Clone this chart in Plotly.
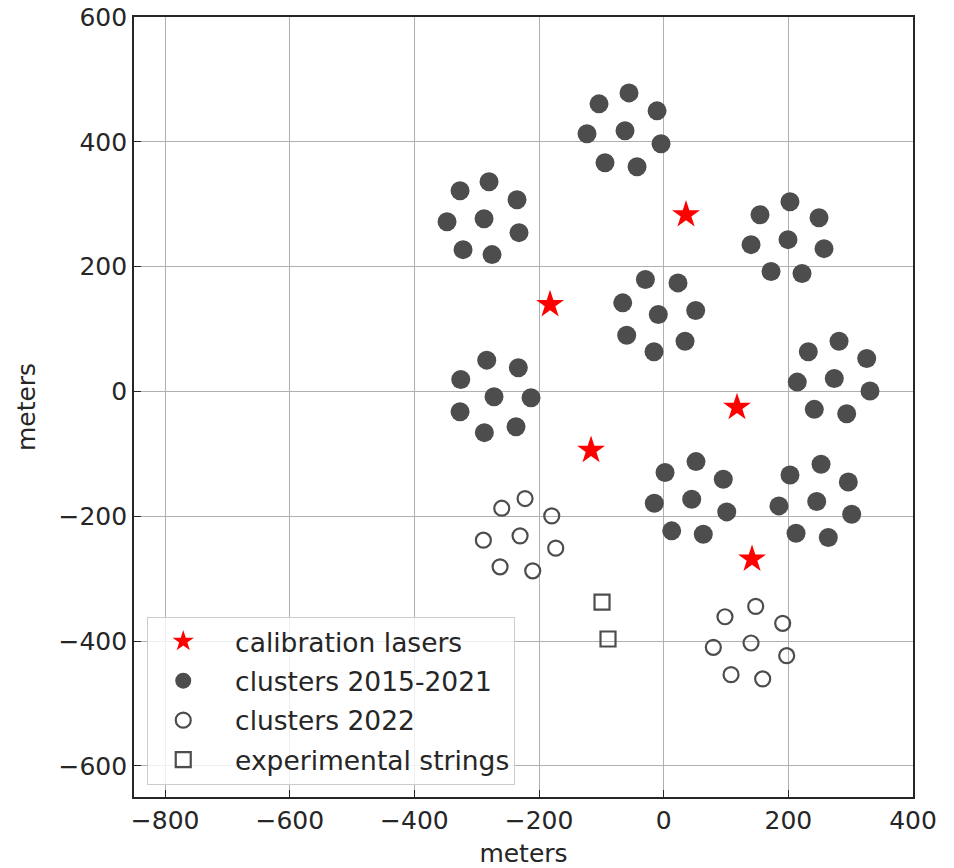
import plotly.graph_objects as go

# Calibration laser positions (meters)
laser_x = [35.8, -182.4, 117.6, -116.6, 141.7]
laser_y = [283.2, 139.2, -25.6, -94.4, -268.8]

# String positions of the clusters deployed 2015-2021 (eight clusters, 8 strings each)
old_x = [
    -347.7, -326.8, -280.3, -235.4, -232.2, -275.5, -322.0, -288.3,
    -123.1, -103.8, -55.7, -10.7, -4.3, -42.8, -94.2, -62.1,
    140.1, 154.5, 202.6, 249.2, 257.2, 221.9, 172.2, 199.4,
    -29.4, 22.9, -65.8, -8.7, 51.3, -59.4, -15.6, 34.2,
    281.3, 232.0, 325.7, 214.3, 273.7, 331.0, 241.6, 293.6,
    -284.0, -233.3, -325.7, -272.3, -212.9, -326.8, -287.8, -237.0,
    51.8, 2.1, 95.6, -15.1, 44.9, 101.1, 12.8, 63.5,
    252.4, 202.6, 296.2, 184.9, 245.5, 301.6, 212.3, 264.1,
]
old_y = [
    272.0, 321.6, 336.0, 307.2, 254.4, 219.2, 227.2, 276.8,
    412.8, 460.8, 478.4, 449.6, 396.8, 360.0, 366.4, 417.6,
    235.2, 283.2, 304.0, 278.4, 228.8, 188.8, 192.0, 243.2,
    179.2, 173.9, 141.9, 123.2, 129.6, 90.1, 63.5, 80.5,
    80.5, 63.5, 52.8, 14.9, 20.8, 0.5, -28.8, -35.7,
    50.1, 37.9, 19.2, -8.5, -10.1, -32.5, -66.1, -56.5,
    -112.5, -130.1, -140.8, -179.2, -172.8, -193.1, -223.5, -228.8,
    -116.8, -133.9, -145.1, -183.5, -176.5, -196.8, -227.2, -234.1,
]

# String positions of the clusters deployed in 2022
new_x = [
    -222.5, -259.9, -179.7, -289.4, -230.5, -173.3, -262.6, -210.2,
    147.6, 98.3, 190.9, 79.6, 140.1, 197.3, 108.0, 158.8,
]
new_y = [
    -171.7, -187.2, -199.5, -238.4, -231.5, -251.2, -281.1, -287.5,
    -344.5, -361.1, -371.7, -410.1, -403.2, -423.5, -453.9, -460.8,
]

# Experimental strings
exp_x = [-99.0, -89.4]
exp_y = [-337.6, -396.8]

x_ticks = [-800, -600, -400, -200, 0, 200, 400]
y_ticks = [-600, -400, -200, 0, 200, 400, 600]

GRAY = "#4d4d4d"
FONT = "DejaVu Sans"
PAD = "\u00a0\u00a0"  # extra gap between legend symbol and label

fig = go.Figure()
fig.add_trace(go.Scatter(
    x=laser_x, y=laser_y, mode="markers", name=PAD + "calibration lasers",
    legendgroup="a",
    marker=dict(symbol="star", size=21, color="#ff0000", line=dict(width=0)),
))
fig.add_trace(go.Scatter(
    x=old_x, y=old_y, mode="markers", name=PAD + "clusters 2015-2021",
    legendgroup="b",
    marker=dict(symbol="circle", size=19, color=GRAY, line=dict(width=0)),
))
fig.add_trace(go.Scatter(
    x=new_x, y=new_y, mode="markers", name=PAD + "clusters 2022",
    legendgroup="c",
    marker=dict(symbol="circle-open", size=15, color=GRAY, line=dict(width=2.2)),
))
fig.add_trace(go.Scatter(
    x=exp_x, y=exp_y, mode="markers", name=PAD + "experimental strings",
    legendgroup="d",
    marker=dict(symbol="square-open", size=15, color=GRAY, line=dict(width=2.2)),
))

axis_common = dict(
    showgrid=True, gridcolor="#b0b0b0", gridwidth=1, automargin=False,
    zeroline=False, showline=True, linecolor="#262626", linewidth=1.6,
    mirror=True, ticks="inside", ticklen=7, tickwidth=1.2, tickcolor="#262626",
    tickfont=dict(family=FONT, size=25, color="#262626"),
    title_font=dict(family=FONT, size=25, color="#262626"),
)

fig.update_xaxes(range=[-850, 400], tickvals=x_ticks, title_text="meters",
                 title_standoff=14, **axis_common)
fig.update_yaxes(range=[-650, 600], tickvals=y_ticks, title_text="meters",
                 title_standoff=16, **axis_common)

fig.update_layout(
    width=954, height=868,
    margin=dict(l=134, r=41, t=17, b=71, autoexpand=False),
    plot_bgcolor="white", paper_bgcolor="white",
    font=dict(family=FONT, size=25, color="#262626"),
    legend=dict(
        x=0.017, y=0.016, xanchor="left", yanchor="bottom",
        bgcolor="rgba(255,255,255,0.8)", bordercolor="#cccccc", borderwidth=1,
        font=dict(family=FONT, size=26.5, color="#262626"),
        itemsizing="trace", itemwidth=60, tracegroupgap=2,
    ),
)

fig.write_html("out.html")
